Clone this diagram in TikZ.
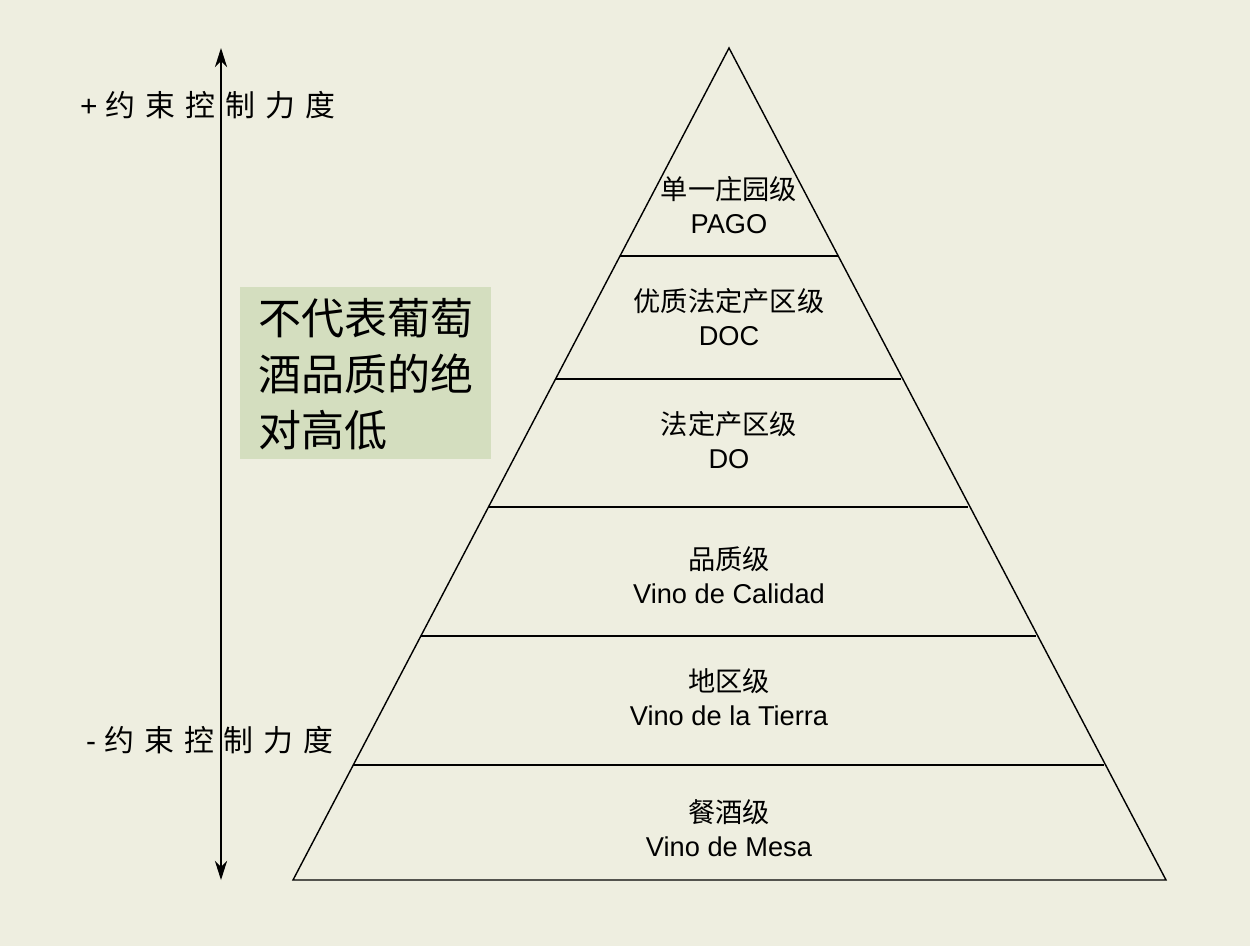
\documentclass[tikz,border=0pt]{standalone}
\usepackage{fontspec}
\setmainfont{Liberation Sans}
\newfontfamily\cjk{Noto Sans CJK SC}
\definecolor{bg}{HTML}{EEEEE0}
\definecolor{boxg}{HTML}{D4DEBF}
\usetikzlibrary{arrows.meta}
\begin{document}
\begin{tikzpicture}[x=0.02cm,y=-0.02cm,
  lab/.style={align=center,font=\fontsize{15.5}{19}\selectfont},
  axl/.style={anchor=west,font=\fontsize{17}{20}\selectfont}]
\fill[bg] (0,0) rectangle (1250,946);
\useasboundingbox (0,0) rectangle (1250,946);
\coordinate (A) at (729,48);
\coordinate (L) at (293,880);
\coordinate (R) at (1166,880);
\draw[line width=0.8pt] (A) -- (L) -- (R) -- cycle;
\foreach \y/\xl/\xr in {256/620/838,379/556/901,507/489/968,636/421/1036,765/353/1104}
  \draw[line width=0.8pt] (\xl,\y) -- (\xr,\y);
\node[lab] (p1) at (729,205) {{\cjk 单一庄园级}\\PAGO};
\node[lab] (p2) at (729,317) {{\cjk 优质法定产区级}\\DOC};
\node[lab] (p3) at (729,440) {{\cjk 法定产区级}\\DO};
\node[lab] (p4) at (729,575) {{\cjk 品质级}\\Vino de Calidad};
\node[lab] (p5) at (729,697) {{\cjk 地区级}\\Vino de la Tierra};
\node[lab] (p6) at (729,828) {{\cjk 餐酒级}\\Vino de Mesa};
\coordinate (t) at (221,48);
\coordinate (b) at (221,880);
\draw[line width=0.8pt,-{Stealth[length=11pt,width=7pt]}] (221,464) -- (t);
\draw[line width=0.8pt,-{Stealth[length=11pt,width=7pt]}] (221,464) -- (b);
\node[axl] (plus) at (74,105) {+ {\cjk 约\,\,束\,\,控\,\,制\,\,力\,\,度}};
\node[axl] (minus) at (80,740) {- {\cjk 约\,\,束\,\,控\,\,制\,\,力\,\,度}};
\fill[boxg] (240,287) rectangle (491,459);
\node[anchor=north west,align=left,font=\fontsize{24.5}{32}\selectfont\cjk] (box) at (252,292) {不代表葡萄\\酒品质的绝\\对高低};
\end{tikzpicture}
\end{document}
